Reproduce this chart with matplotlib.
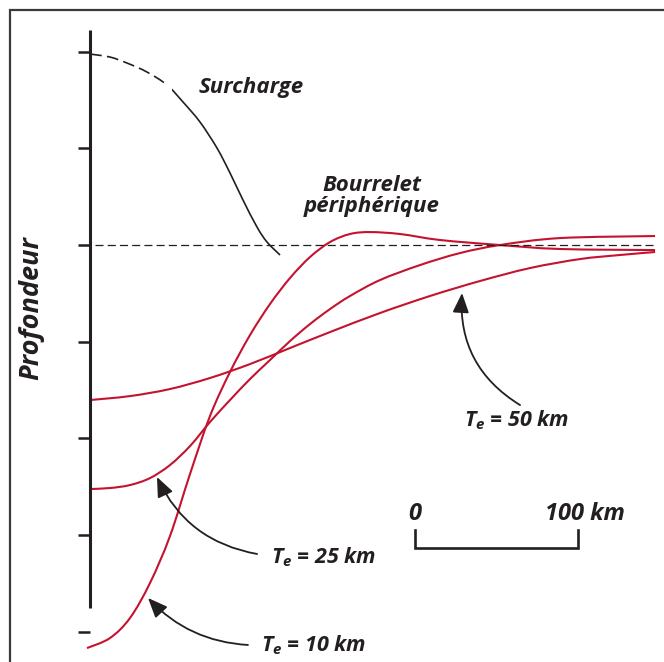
import matplotlib
matplotlib.use("Agg")
import numpy as np
import matplotlib.pyplot as plt
from matplotlib.patches import FancyArrowPatch, Rectangle, PathPatch
from matplotlib.path import Path

# ---------------- data (distance in km, depth in arbitrary units, 0 = reference level) -------------
te10_x = [-1.84, 12.27, 24.54, 36.81, 49.08, 61.35, 73.62, 85.89, 98.16, 110.43, 122.70,
          134.97, 147.24, 159.51, 171.78, 190.18, 214.72, 251.53, 288.34, 346.63]
te10_y = [4.168, 4.064, 3.857, 3.495, 3.009, 2.368, 1.768, 1.313, 0.931, 0.610, 0.341,
          0.124, -0.031, -0.114, -0.134, -0.114, -0.052, 0.0, 0.041, 0.052]

te25_x = [0.0, 12.27, 24.54, 36.81, 49.08, 61.35, 73.62, 85.89, 98.16, 110.43, 122.70,
          134.97, 147.24, 159.51, 177.91, 202.45, 226.99, 251.53, 288.34, 346.63]
te25_y = [2.523, 2.513, 2.482, 2.410, 2.275, 2.079, 1.830, 1.603, 1.386, 1.189, 0.993,
          0.817, 0.662, 0.527, 0.362, 0.207, 0.083, 0.0, -0.072, -0.093]

te50_x = [0.0, 24.54, 49.08, 73.62, 98.16, 122.70, 147.24, 177.91, 208.59, 239.26, 269.94,
          300.61, 325.15, 346.63]
te50_y = [1.603, 1.562, 1.489, 1.375, 1.231, 1.065, 0.900, 0.703, 0.527, 0.372, 0.238,
          0.145, 0.103, 0.072]

load_x = [0.0, 12.27, 22.70, 34.97, 47.24, 57.06, 67.48, 77.91, 85.89, 93.87, 102.45,
          108.59, 116.56]
load_y = [-1.975, -1.944, -1.882, -1.789, -1.655, -1.479, -1.272, -1.003, -0.745, -0.465,
          -0.186, -0.031, 0.103]
load_dash_end_km = 47.2     # dashed under the load edge, solid beyond
load_solid_start_km = 50.5

depth_ticks = [-2, -1, 0, 1, 2, 3, 4]
scale_km = [0, 100]
scale_labels = ["0", "100 km"]
curve_labels = [r"$T_e$ = 50 km", r"$T_e$ = 25 km", r"$T_e$ = 10 km"]

# ---------------- style ----------------
RED = "#C4132E"
INK = "#231F20"
FONT = "Open Sans"
plt.rcParams["lines.scale_dashes"] = False
plt.rcParams["mathtext.fontset"] = "custom"
plt.rcParams["mathtext.it"] = FONT + ":italic:bold"
plt.rcParams["mathtext.rm"] = FONT + ":italic:bold"
tkw = dict(family=FONT, fontweight="bold", fontstyle="italic", color=INK)


def smooth_path(xs, ys):
    """Catmull-Rom through the read points, expressed as cubic Bezier segments."""
    P = np.column_stack([xs, ys]).astype(float)
    n = len(P)
    verts = [P[0]]
    codes = [Path.MOVETO]
    for i in range(n - 1):
        p0 = P[i - 1] if i > 0 else P[i]
        p1, p2 = P[i], P[i + 1]
        p3 = P[i + 2] if i + 2 < n else P[i + 1]
        verts += [p1 + (p2 - p0) / 6, p2 - (p3 - p1) / 6, p2]
        codes += [Path.CURVE4] * 3
    return Path(verts, codes)


fig = plt.figure(figsize=(6.64, 6.62), dpi=100)
ax = fig.add_axes([0, 0, 1, 1])
ax.set_xlim(-55.2, 352.1)
ax.set_ylim(4.312, -2.534)
ax.axis("off")

# frame
fig.patches.append(Rectangle((10 / 664, -0.1), 1.2, 1.1 - 10 / 662,
                             transform=fig.transFigure, fill=False,
                             edgecolor="#3A3A3A", lw=1.6))

# vertical axis and ticks
ax.plot([0, 0], [-2.22, 3.75], color=INK, lw=2.2, solid_capstyle="butt")
for d in depth_ticks:
    ax.plot([-7.4, 0], [d, d], color=INK, lw=1.8, solid_capstyle="butt")

# reference level
ax.plot([3, 346.6], [0, 0], color=INK, lw=0.9, dashes=(5.8, 3.0))

# load: one smooth curve, dashed part and solid part obtained by clipping
load_path = smooth_path(load_x, load_y)
dashed = PathPatch(load_path, fill=False, edgecolor=INK, lw=1.2, linestyle=(0, (8.5, 3.8)))
solid = PathPatch(load_path, fill=False, edgecolor=INK, lw=1.2)
ax.add_patch(dashed)
ax.add_patch(solid)
clip_d = Rectangle((-20, -3), 20 + load_dash_end_km, 4, transform=ax.transData)
clip_s = Rectangle((load_solid_start_km, -3), 200, 4, transform=ax.transData)
dashed.set_clip_path(clip_d)
solid.set_clip_path(clip_s)

# deflection curves
for xs, ys in [(te10_x, te10_y), (te25_x, te25_y), (te50_x, te50_y)]:
    ax.add_patch(PathPatch(smooth_path(xs, ys), fill=False, edgecolor=RED, lw=1.5,
                           capstyle="butt"))

# labels
ax.text(98.8, -1.634, "Surcharge", ha="center", va="center", fontsize=16, **tkw)
ax.text(173.0, -0.507, "Bourrelet\npériphérique", ha="center", va="center",
        fontsize=16, linespacing=1.05, **tkw)
ax.text(-36.2, 0.651, "Profondeur", ha="center", va="center", rotation=90,
        fontsize=19.5, **tkw)

label_pos = [(262.0, 1.81), (143.6, 3.226), (137.4, 4.137)]
for (lx, ly), lab in zip(label_pos, curve_labels):
    ax.text(lx, ly, lab, ha="center", va="center", fontsize=15.5, **tkw)

# arrows
arrows = [((263.8, 1.655), (228.2, 0.496), -0.30),
          ((102.5, 3.195), (41.1, 2.399), -0.26),
          ((96.9, 4.136), (35.6, 3.650), -0.20)]
for tail, tip, rad in arrows:
    ax.add_patch(FancyArrowPatch(tail, tip, connectionstyle=f"arc3,rad={rad}",
                                 arrowstyle="-|>,head_length=0.6,head_width=0.25",
                                 mutation_scale=20, color=INK, lw=1.3,
                                 shrinkA=0, shrinkB=0))

# scale bar
x0 = 199.4
sx = [x0 + v for v in scale_km]
ax.plot([sx[0], sx[0], sx[1], sx[1]], [2.947, 3.133, 3.133, 2.947], color=INK, lw=1.9,
        solid_joinstyle="miter")
ax.text(sx[0], 2.78, scale_labels[0], ha="center", va="center", fontsize=17, **tkw)
ax.text(sx[1] - 20.5, 2.78, scale_labels[1], ha="left", va="center", fontsize=17, **tkw)

fig.savefig("out.png", dpi=100)
